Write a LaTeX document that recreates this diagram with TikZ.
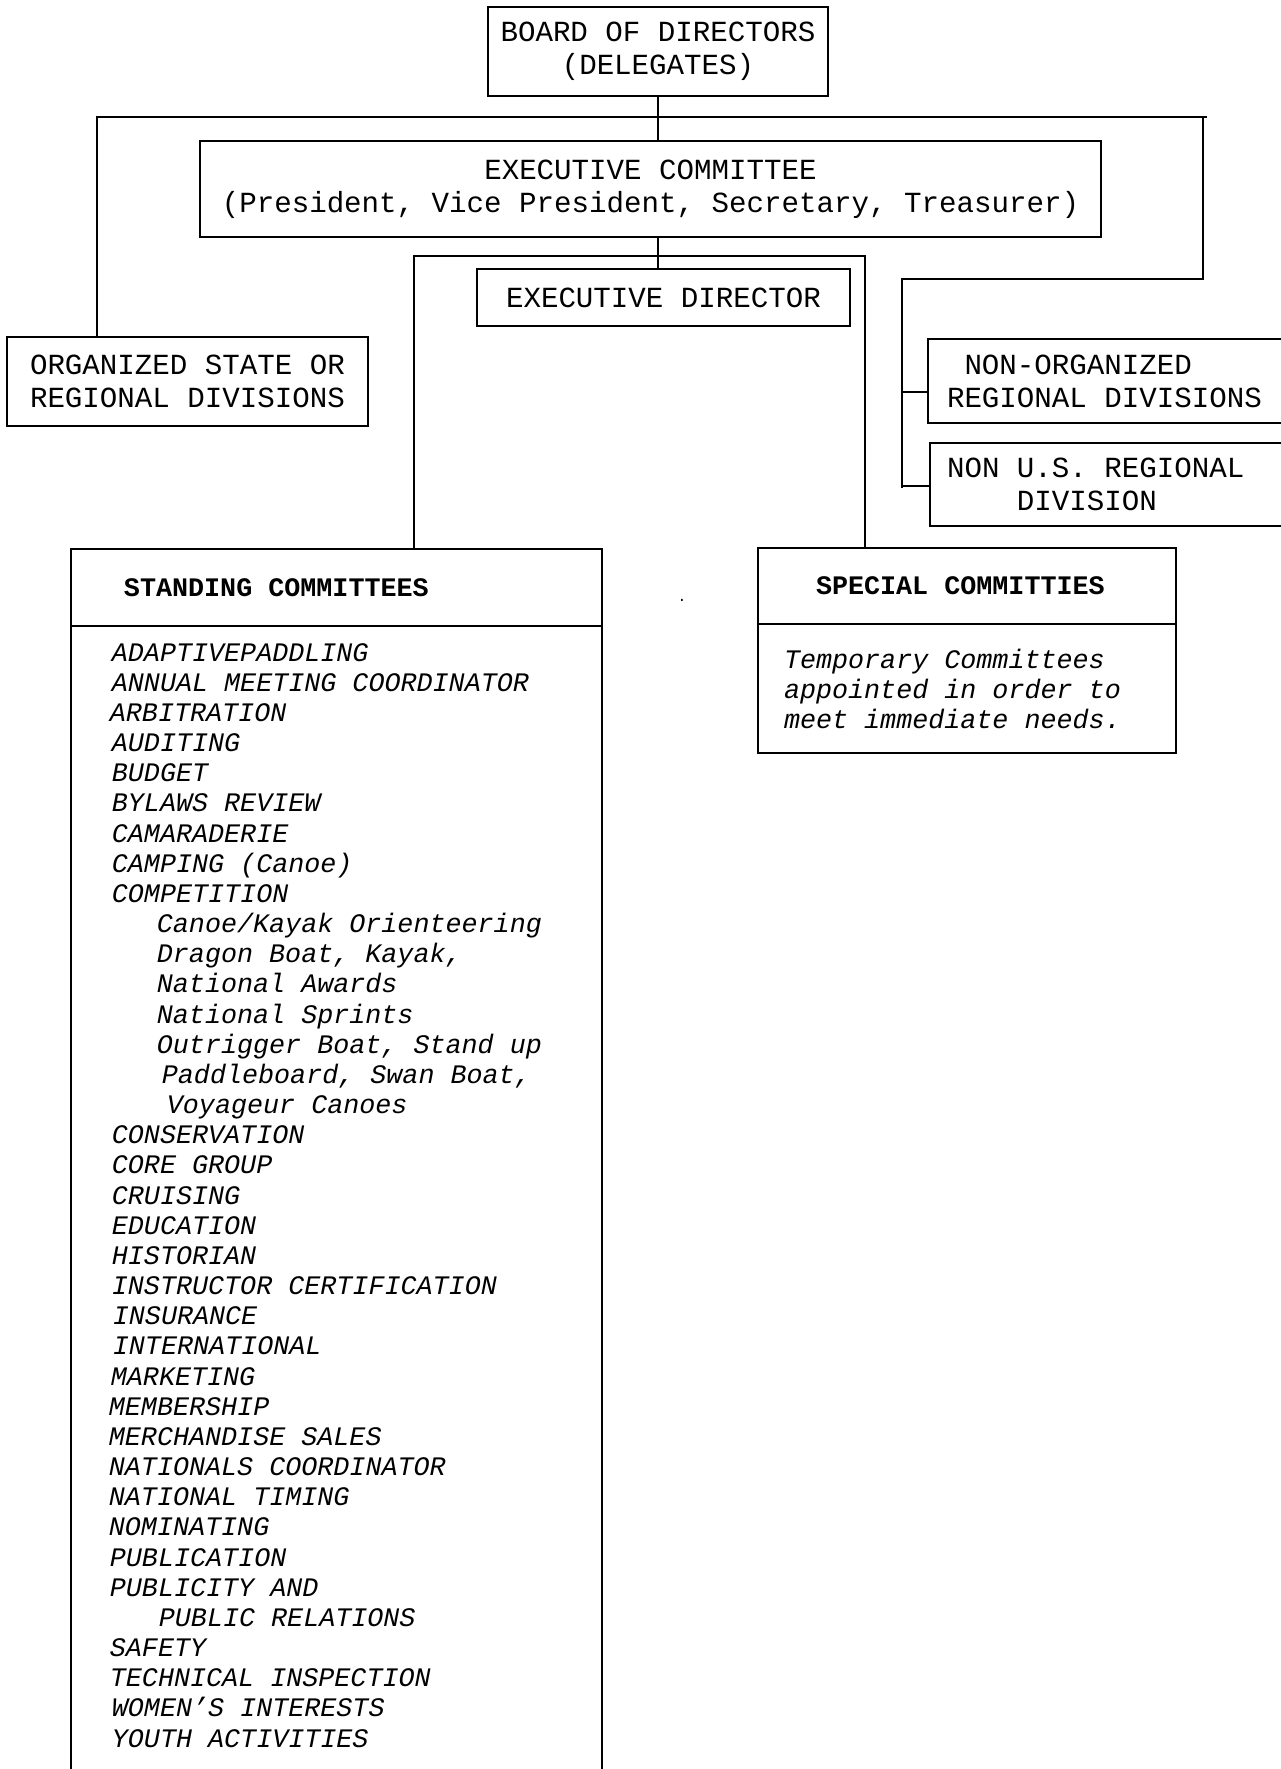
\documentclass[tikz,border=0pt]{standalone}
\usepackage{fontspec}
\setmainfont{Liberation Mono}[WordSpace={1,0,0}]
\def\pxu{0.41152pt}

\begin{document}
\frenchspacing
\begin{tikzpicture}[x=\pxu,y=-\pxu,line width=0.75pt]
\tikzstyle{box}=[draw,inner sep=0pt,align=center,font=\fontsize{12}{13.6}\selectfont]
\tikzstyle{lbox}=[draw,inner ysep=0pt,align=left,font=\fontsize{12}{13.6}\selectfont]
\tikzstyle{head}=[draw,inner ysep=0pt,align=left,font=\fontsize{11}{12.4}\selectfont\bfseries]
\tikzstyle{item}=[inner sep=0pt,anchor=base west,font=\fontsize{11}{12.4}\selectfont\itshape]
\useasboundingbox (0,0) rectangle (1281,1769);
\clip (0,0) rectangle (1281,1769);

\node[box,minimum width=340*\pxu,minimum height=89*\pxu] (board) at (658,51.5) {BOARD OF DIRECTORS\\(DELEGATES)};
\node[box,minimum width=901*\pxu,minimum height=96*\pxu] (exec) at (650.5,189) {EXECUTIVE COMMITTEE\\(President, Vice President, Secretary, Treasurer)};
\node[box,minimum width=373*\pxu,minimum height=57*\pxu] (director) at (663.5,297.5) {EXECUTIVE DIRECTOR};
\node[box,minimum width=361*\pxu,minimum height=89*\pxu] (orgdiv) at (187.5,381.5) {ORGANIZED STATE OR\\REGIONAL DIVISIONS};
\node[lbox,inner xsep=19*\pxu,minimum height=84*\pxu] (nonorg) at (1114,381) {\makebox[137.45pt][l]{\hspace*{0.6em}NON-ORGANIZED}\\REGIONAL DIVISIONS};
\node[lbox,inner xsep=17*\pxu,minimum height=83*\pxu] (nonus) at (1115,484.5) {\makebox[138.27pt][l]{NON U.S. REGIONAL}\\\hspace*{2.4em}DIVISION};

% standing and special committees
\node[head,inner xsep=53*\pxu,minimum height=77*\pxu] (standhead) at (336.5,587.5) {\makebox[174.9pt][l]{STANDING COMMITTEES}};
\node[draw,minimum width=531*\pxu,minimum height=1174*\pxu] (standbody) at (336.5,1213) {};
\node[head,inner xsep=58*\pxu,minimum height=76*\pxu] (sphead) at (967,586) {\makebox[124.28pt][l]{SPECIAL COMMITTIES}};
\node[draw,inner ysep=0pt,inner xsep=26*\pxu,minimum height=129*\pxu,align=left,font=\fontsize{11}{12.35}\selectfont\itshape] (spbody) at (967,688.5) {\makebox[150.62pt][l]{Temporary Committees}\\appointed in order to\\meet immediate needs.};
\node[inner sep=0pt,anchor=base,font=\fontsize{6}{6}\selectfont] (dot) at (682,601) {.};

\foreach \x/\t [count=\i from 0] in {111/ADAPTIVEPADDLING,111/ANNUAL MEETING COORDINATOR,109/ARBITRATION,
  111/AUDITING,111/BUDGET,111/BYLAWS REVIEW,111/CAMARADERIE,111/CAMPING (Canoe),111/COMPETITION,
  156/{Canoe/Kayak Orienteering},{156/Dragon Boat, Kayak,},156/National Awards,156/National Sprints,
  {156/Outrigger Boat, Stand up},{161/Paddleboard, Swan Boat,},166/Voyageur Canoes,
  111/CONSERVATION,111/CORE GROUP,111/CRUISING,111/EDUCATION,111/HISTORIAN,111/INSTRUCTOR CERTIFICATION,
  112/INSURANCE,112/INTERNATIONAL,110/MARKETING,108/MEMBERSHIP,108/MERCHANDISE SALES,
  108/NATIONALS COORDINATOR,108/NATIONAL TIMING,108/NOMINATING,109/PUBLICATION,109/PUBLICITY AND,
  158/PUBLIC RELATIONS,109/SAFETY,109/TECHNICAL INSPECTION,111/WOMEN’S INTERESTS,111/YOUTH ACTIVITIES}
  \node[item] (com\i) at (\x,661+30.17*\i) {\t};

% connectors
\coordinate (tl) at (97,117);
\coordinate (tr) at (1207,117);
\coordinate (rc) at (1203,279);
\coordinate (rj) at (902,279);
\coordinate (rb) at (902,488);
\coordinate (t1) at (902,392);
\coordinate (t2) at (902,486);
\coordinate (ml) at (414,256);
\coordinate (mr) at (865,256);
\draw (board.south) -- (board.south |- exec.north);
\draw (orgdiv.north -| tl) -- (tl) -- (tr);
\draw (rc |- tr) -- (rc) -- (rj) -- (rb);
\draw (t1) -- (t1 -| nonorg.west);
\draw (t2) -- (t2 -| nonus.west);
\draw (board.south |- exec.south) -- (board.south |- director.north);
\draw (ml |- standhead.north) -- (ml) -- (mr) -- (mr |- sphead.north);
\end{tikzpicture}
\end{document}
